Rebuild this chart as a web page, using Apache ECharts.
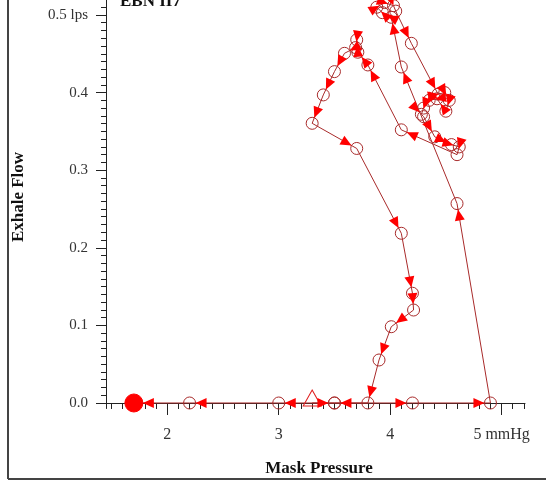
<!DOCTYPE html>
<html><head><meta charset="utf-8">
<script src="https://cdn.jsdelivr.net/npm/echarts@6/dist/echarts.min.js"></script>
<style>html,body{margin:0;padding:0;background:#fff}#c{width:546px;height:481px}</style>
</head><body><div id="c"></div>
<script>
// Trajectory (in time order): mask pressure (mmHg) and exhale flow (lps)
const pressure = [3.30, 3.50, 4.20, 4.90, 4.60, 4.10,
  4.01, 3.93, 3.88, 3.95, 4.03, 4.05,
  4.19,
  4.43, 4.49, 4.53, 4.50, 4.42, 4.35, 4.30, 4.28,
  4.30, 4.40,
  4.55, 4.62, 4.60,
  4.10, 3.80,
  3.71, 3.70, 3.69,
  3.59, 3.50, 3.40, 3.30, 3.70,
  4.10, 4.20, 4.21, 4.01, 3.90, 3.80,
  3.50, 3.00, 2.20, 1.70];
const flow = [0, 0, 0, 0, 0.257, 0.433,
  0.497, 0.503, 0.510, 0.516, 0.512, 0.505,
  0.4635,
  0.398, 0.400, 0.390, 0.376, 0.392, 0.390, 0.380, 0.372,
  0.369, 0.343,
  0.333, 0.330, 0.320,
  0.352, 0.4356,
  0.452, 0.468, 0.458,
  0.4506, 0.427, 0.397, 0.3604, 0.328,
  0.2187, 0.1414, 0.1198, 0.0983, 0.0554, 0,
  0, 0, 0, 0];

const xTicks = [2, 3, 4, 5];
const xTickLabels = ['2', '3', '4', '5 mmHg'];
const yTicks = [0, 0.1, 0.2, 0.3, 0.4, 0.5];
const yTickLabels = ['0.0', '0.1', '0.2', '0.3', '0.4', '0.5 lps'];
const chartTitle = 'EBN II7';
const xTitle = 'Mask Pressure';
const yTitle = 'Exhale Flow';

const X_MIN = 1.45, X_MAX = 5.21, Y_MIN = -0.0071, Y_MAX = 0.5193;
const xMinor = [], yMinor = [];
for (let k = 15; k <= 52; k++) xMinor.push(k / 10);
for (let k = 0; k <= 51; k++) yMinor.push(k / 100);

const lineCol = '#a82a2a';
const pts = pressure.map((x, i) => {
  const d = { value: [x, flow[i]] };
  if (i === 0) {
    d.symbol = 'triangle'; d.symbolSize = [18, 16]; d.symbolOffset = [0, -5];
    d.itemStyle = { color: 'rgba(0,0,0,0)', borderColor: '#e02020', borderWidth: 1 };
  } else if (i === pressure.length - 1) {
    d.symbol = 'circle'; d.symbolSize = 18;
    d.itemStyle = { color: '#ff0000', borderColor: '#ff0000' };
  }
  return d;
});
const segs = [];
for (let i = 0; i < pressure.length - 1; i++) segs.push([pressure[i], flow[i], pressure[i + 1], flow[i + 1]]);

function lab(ticks, labels) {
  return function (v) {
    for (let i = 0; i < ticks.length; i++) if (Math.abs(ticks[i] - v) < 1e-9) return labels[i];
    return '';
  };
}
const axisCol = '#222';
const serif = '"Liberation Serif", "DejaVu Serif", serif';

const chart = echarts.init(document.getElementById('c'));
chart.setOption({
  animation: false,
  grid: { left: 106, right: 21, top: 0, bottom: 72.5, containLabel: false },
  xAxis: [{
    type: 'value', min: X_MIN, max: X_MAX, position: 'bottom',
    axisLine: { show: true, lineStyle: { color: axisCol, width: 1 } },
    axisTick: { show: true, customValues: xTicks, length: 12, inside: false, lineStyle: { color: axisCol } },
    axisLabel: { show: true, customValues: xTicks, formatter: lab(xTicks, xTickLabels), margin: 18,
      fontFamily: serif, fontSize: 16, color: '#333' },
    splitLine: { show: false }
  }, {
    type: 'value', min: X_MIN, max: X_MAX, position: 'bottom',
    axisLine: { show: false },
    axisTick: { show: true, customValues: xMinor, length: 6, inside: false, lineStyle: { color: axisCol } },
    axisLabel: { show: false }, splitLine: { show: false }
  }],
  yAxis: [{
    type: 'value', min: Y_MIN, max: Y_MAX, position: 'left',
    axisLine: { show: true, lineStyle: { color: axisCol, width: 1 } },
    axisTick: { show: true, customValues: yTicks, length: 10, inside: false, lineStyle: { color: axisCol } },
    axisLabel: { show: true, customValues: yTicks, formatter: lab(yTicks, yTickLabels), margin: 18,
      fontFamily: serif, fontSize: 15, color: '#333' },
    splitLine: { show: false }
  }, {
    type: 'value', min: Y_MIN, max: Y_MAX, position: 'left',
    axisLine: { show: false },
    axisTick: { show: true, customValues: yMinor, length: 5, inside: false, lineStyle: { color: axisCol } },
    axisLabel: { show: false }, splitLine: { show: false }
  }],
  graphic: [
    { type: 'line', shape: { x1: 8, y1: 0, x2: 8, y2: 479 }, style: { stroke: '#444', lineWidth: 2 } },
    { type: 'line', shape: { x1: 8, y1: 479, x2: 546, y2: 479 }, style: { stroke: '#444', lineWidth: 2 } },
    { type: 'text', x: 120, y: 10, style: { text: chartTitle, font: 'bold 17px ' + serif, fill: '#111', verticalAlign: 'bottom' } },
    { type: 'text', x: 319, y: 469, style: { text: xTitle, font: 'bold 17px ' + serif, fill: '#111', align: 'center', verticalAlign: 'middle' } },
    { type: 'text', x: 19, y: 197, rotation: Math.PI / 2, style: { text: yTitle, font: 'bold 17px ' + serif, fill: '#111', align: 'center', verticalAlign: 'middle' } }
  ],
  series: [{
    type: 'line', data: pts, xAxisIndex: 0, yAxisIndex: 0,
    symbol: 'circle', symbolSize: 12, showAllSymbol: true,
    lineStyle: { color: lineCol, width: 1 },
    itemStyle: { color: 'rgba(0,0,0,0)', borderColor: lineCol, borderWidth: 1 },
    z: 3
  }, {
    type: 'custom', data: segs, xAxisIndex: 0, yAxisIndex: 0,
    encode: { x: [0, 2], y: [1, 3] }, z: 4,
    renderItem: function (params, api) {
      const p0 = api.coord([api.value(0), api.value(1)]);
      const p1 = api.coord([api.value(2), api.value(3)]);
      let dx = p1[0] - p0[0], dy = p1[1] - p0[1];
      const len = Math.hypot(dx, dy);
      if (len < 0.5) return null;
      dx /= len; dy /= len;
      const r = params.dataIndex === segs.length - 1 ? 9 : 6;
      const L = 11, W = 5;
      const tip = [p1[0] - dx * r, p1[1] - dy * r];
      const bx = tip[0] - dx * L, by = tip[1] - dy * L;
      return { type: 'polygon', shape: { points: [tip, [bx - dy * W, by + dx * W], [bx + dy * W, by - dx * W]] },
        style: { fill: '#ff0000' } };
    }
  }]
});
</script></body></html>
